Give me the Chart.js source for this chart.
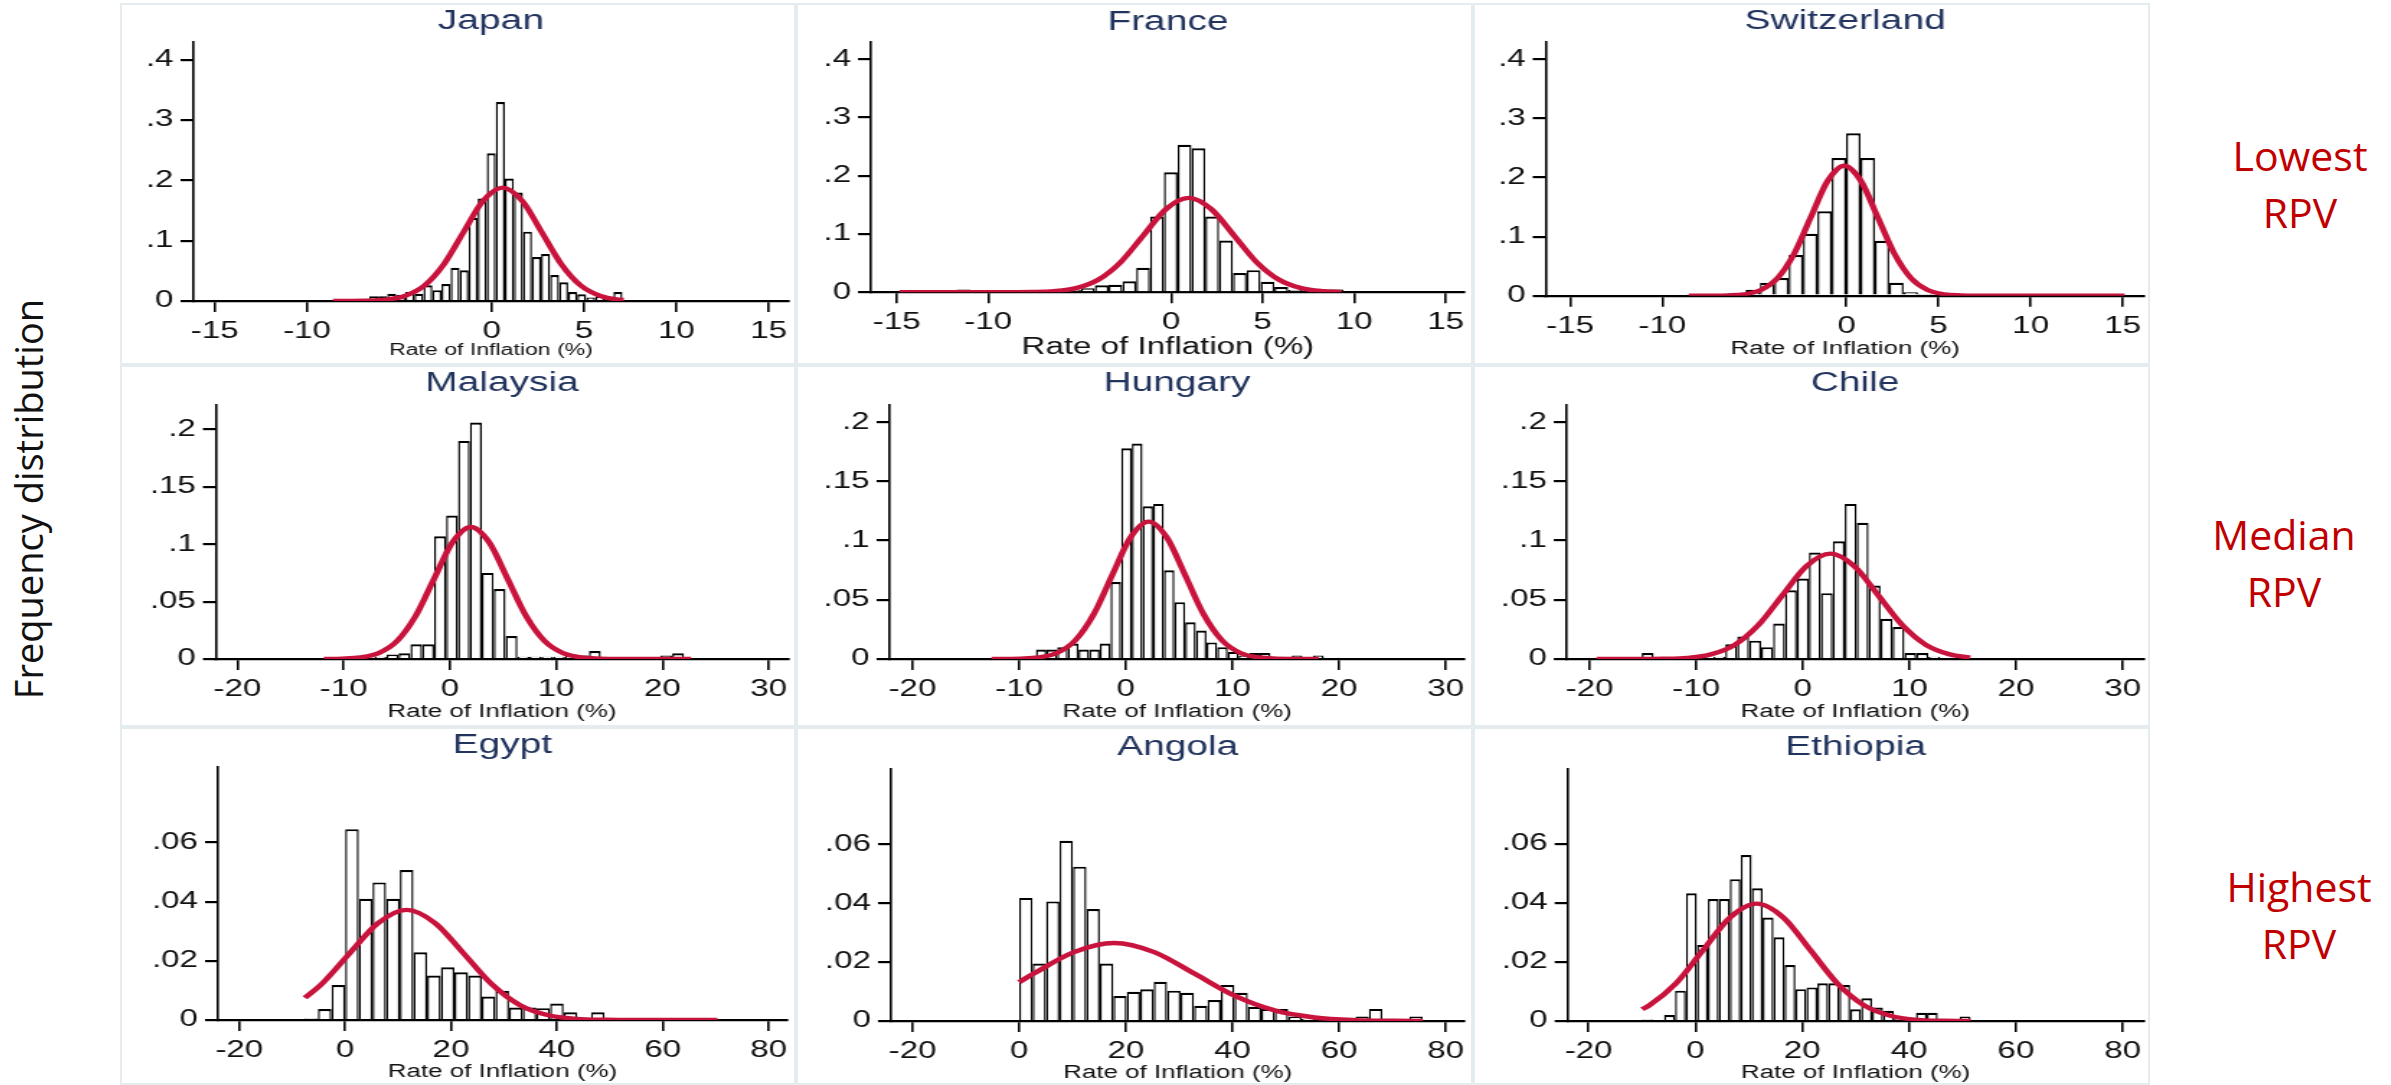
<!DOCTYPE html>
<html>
<head>
<meta charset="utf-8">
<title>Inflation histograms by RPV group</title>
<script src="https://cdn.jsdelivr.net/npm/chart.js@4.4.0/dist/chart.umd.min.js"></script>
<style>
  body { margin: 0; background: #fff; width: 2391px; height: 1085px; position: relative; overflow: hidden; }
  .panel { position: absolute; box-sizing: border-box; border: 2px solid #e4ecf0; }
  .side { position: absolute; width: 220px; text-align: center; font-family: 'Open Sans', sans-serif;
          font-size: 41px; line-height: 57px; color: #c00000; }
  #ylab { position: absolute; left: -222px; top: 474px; width: 500px; height: 50px; line-height: 50px;
          text-align: center; font-family: 'Open Sans', sans-serif; font-size: 38px; color: #111;
          transform: rotate(-90deg); }
</style>
</head>
<body>
<div id="ylab">Frequency distribution</div>
<script>
const countries = ['Japan', 'France', 'Switzerland', 'Malaysia', 'Hungary', 'Chile', 'Egypt', 'Angola', 'Ethiopia'];

// histogram bins: left edge of the first bin and bin width
const binStart = [-8.6, -14.75, -5.48, -11.56, -12.43, -19.59, -7.74, 0, -9.98];
const binWidth = [0.49, 0.755, 0.78, 1.12, 1.0, 1.12, 2.58, 2.523, 2.05];

const freqJapan = [0, 0.002, 0, 0.002, 0.008, 0.008, 0.012, 0.01, 0.015, 0.012, 0.026, 0.018, 0.028, 0.055, 0.051,
  0.138, 0.17, 0.245, 0.33, 0.203, 0.18, 0.115, 0.073, 0.078, 0.043, 0.031, 0.015, 0.011, 0.006, 0.008, 0.003, 0.015];
const freqFrance = [0, 0, 0, 0, 0.005, 0, 0, 0, 0, 0, 0, 0.002, 0.004, 0.007, 0.012, 0.013, 0.019, 0.042,
  0.13, 0.206, 0.253, 0.247, 0.13, 0.089, 0.033, 0.038, 0.018, 0.009, 0.004, 0.002, 0, 0.005];
const freqSwitzerland = [0.01, 0.022, 0.03, 0.069, 0.105, 0.143, 0.233, 0.275, 0.233, 0.093, 0.022, 0.006, 0.003];
const freqMalaysia = [0.0015, 0, 0, 0, 0.002, 0.004, 0.005, 0.0128, 0.0128, 0.107, 0.125, 0.19, 0.206, 0.075, 0.061,
  0.02, 0.002, 0.002, 0.002, 0.002, 0.004, 0.003, 0.007, 0, 0, 0, 0, 0, 0.003, 0.005, 0];
const freqHungary = [0, 0, 0, 0, 0.008, 0.008, 0.01, 0.013, 0.008, 0.008, 0.013, 0.065, 0.178, 0.182, 0.129, 0.131,
  0.075, 0.048, 0.031, 0.024, 0.014, 0.01, 0.006, 0.003, 0.005, 0.005, 0, 0.002, 0.003, 0, 0.003];
const freqChile = [0, 0, 0, 0, 0.005, 0, 0, 0, 0, 0, 0.002, 0.0124, 0.019, 0.0155, 0.01, 0.03, 0.058, 0.068, 0.09,
  0.0556, 0.0994, 0.131, 0.115, 0.062, 0.034, 0.027, 0.005, 0.005, 0.002, 0.001, 0, 0];
const freqEgypt = [0.0005, 0.0037, 0.0118, 0.0645, 0.041, 0.0465, 0.041, 0.0507, 0.0229, 0.015, 0.0178, 0.0161,
  0.015, 0.0079, 0.0099, 0.0042, 0.0042, 0.004, 0.0056, 0.0026, 0.0008, 0.0026, 0, 0, 0, 0, 0, 0, 0, 0, 0];
const freqAngola = [0.0418, 0.0195, 0.0406, 0.0612, 0.0524, 0.038, 0.0195, 0.0085, 0.0099, 0.0108, 0.0133, 0.0103,
  0.0096, 0.0052, 0.0071, 0.0122, 0.0096, 0.0048, 0.0041, 0.0041, 0.0015, 0.0008, 0.0008, 0.0008, 0.0008, 0.0015,
  0.0041, 0, 0, 0.0015];
const freqEthiopia = [0.0005, 0, 0.002, 0.0103, 0.0433, 0.0258, 0.0414, 0.0414, 0.0481, 0.0563, 0.045, 0.0351,
  0.0284, 0.019, 0.0108, 0.0114, 0.0128, 0.0128, 0.0122, 0.004, 0.0077, 0.0046, 0.0035, 0.001, 0.001, 0.0028,
  0.0028, 0.0005, 0.0005, 0.0015];

// normal density overlay
const curveXJapan = [-8.6, -7.89, -6.83, -5.77, -4.71, -3.65, -2.59, -1.53, -0.47, 0.59, 1.65, 2.71, 3.77, 4.83, 5.89, 6.95, 7.15];
const curveYJapan = [0, 0.0001, 0.0004, 0.0021, 0.0083, 0.0254, 0.061, 0.114, 0.1659, 0.188, 0.1659, 0.114, 0.061, 0.0254, 0.0083, 0.0021, 0.0016];
const curveXFrance = [-14.85, -8.89, -7.66, -6.43, -5.2, -3.97, -2.74, -1.51, -0.28, 0.95, 2.18, 3.41, 4.64, 5.87, 7.1, 8.33, 9.3];
const curveYFrance = [0, 0.0001, 0.0004, 0.0018, 0.0071, 0.0219, 0.0526, 0.0983, 0.143, 0.162, 0.143, 0.0983, 0.0526, 0.0219, 0.0071, 0.0018, 0.0005];
const curveXSwitzerland = [-8.57, -7.36, -6.46, -5.55, -4.645, -3.74, -2.835, -1.93, -1.025, -0.12, 0.785, 1.69, 2.595, 3.5, 4.405, 5.31, 6.215, 7.12, 15.1];
const curveYSwitzerland = [0, 0.0001, 0.0005, 0.0024, 0.0097, 0.0298, 0.0714, 0.1334, 0.1942, 0.22, 0.1942, 0.1334, 0.0714, 0.0298, 0.0097, 0.0024, 0.0005, 0.0001, 0];
const curveXMalaysia = [-11.86, -10.17, -8.44, -6.705, -4.97, -3.235, -1.5, 0.235, 1.97, 3.705, 5.44, 7.175, 8.91, 10.645, 12.38, 14.115, 15.85, 22.7];
const curveYMalaysia = [0, 0.0003, 0.0013, 0.0051, 0.0156, 0.0373, 0.0697, 0.1015, 0.115, 0.1015, 0.0697, 0.0373, 0.0156, 0.0051, 0.0013, 0.0003, 0, 0];
const curveXHungary = [-12.58, -11.61, -9.89, -8.17, -6.45, -4.73, -3.01, -1.29, 0.43, 2.15, 3.87, 5.59, 7.31, 9.03, 10.75, 12.47, 14.19, 15.91, 18.1];
const curveYHungary = [0, 0, 0.0003, 0.0013, 0.0051, 0.0157, 0.0377, 0.0704, 0.1024, 0.116, 0.1024, 0.0704, 0.0377, 0.0157, 0.0051, 0.0013, 0.0003, 0, 0];
const curveXChile = [-19.34, -15.34, -13.1, -10.86, -8.62, -6.38, -4.14, -1.9, 0.34, 2.58, 4.82, 7.06, 9.3, 11.54, 13.78, 15.7];
const curveYChile = [0, 0, 0.0002, 0.001, 0.0039, 0.012, 0.0289, 0.054, 0.0785, 0.089, 0.0785, 0.054, 0.0289, 0.012, 0.0039, 0.0012];
const curveXEgypt = [-7.6, -4.48, 0.88, 6.24, 11.6, 16.96, 22.32, 27.68, 33.04, 38.4, 43.76, 49.12, 54.48, 70.3];
const curveYEgypt = [0.0075, 0.0121, 0.0226, 0.0328, 0.0372, 0.0328, 0.0226, 0.0121, 0.005, 0.0016, 0.0004, 0.0001, 0, 0];
const curveXAngola = [0, 2.75, 10.28, 17.8, 25.33, 32.85, 40.38, 47.9, 55.43, 62.95, 70.48, 75.7];
const curveYAngola = [0.0132, 0.0161, 0.0234, 0.0265, 0.0234, 0.0161, 0.0086, 0.0036, 0.0012, 0.0003, 0.0001, 0];
const curveXEthiopia = [-9.98, -8.58, -3.57, 1.45, 6.45, 11.46, 16.47, 21.48, 26.49, 31.5, 36.51, 41.52, 46.53, 51.5];
const curveYEthiopia = [0.004, 0.0054, 0.0129, 0.0241, 0.0351, 0.0398, 0.0351, 0.0241, 0.0129, 0.0054, 0.0018, 0.0004, 0.0001, 0];

// axis ranges and tick labels
const xMin = [-16.15, -16.41, -16.33, -22.02, -22.14, -22.13, -24.02, -24.03, -23.92];
const xMax = [16.07, 16.04, 16.19, 31.82, 31.78, 31.96, 83.46, 83.56, 83.9];
const yMax = [0.43, 0.43, 0.43, 0.2213, 0.2145, 0.2145, 0.0856, 0.0858, 0.0857];
const xTicksLow = [-15, -10, 0, 5, 10, 15];
const xTicksMid = [-20, -10, 0, 10, 20, 30];
const xTicksHigh = [-20, 0, 20, 40, 60, 80];
const yTicksLow = [0, 0.1, 0.2, 0.3, 0.4];
const yTicksMid = [0, 0.05, 0.1, 0.15, 0.2];
const yTicksHigh = [0, 0.02, 0.04, 0.06];
const xAxisTitle = 'Rate of Inflation (%)';
const rowLabels = [['Lowest', 'RPV'], ['Median', 'RPV'], ['Highest', 'RPV']];

const freqs = [freqJapan, freqFrance, freqSwitzerland, freqMalaysia, freqHungary, freqChile, freqEgypt, freqAngola, freqEthiopia];
const curveXs = [curveXJapan, curveXFrance, curveXSwitzerland, curveXMalaysia, curveXHungary, curveXChile, curveXEgypt, curveXAngola, curveXEthiopia];
const curveYs = [curveYJapan, curveYFrance, curveYSwitzerland, curveYMalaysia, curveYHungary, curveYChile, curveYEgypt, curveYAngola, curveYEthiopia];
const xTicksByRow = [xTicksLow, xTicksMid, xTicksHigh];
const yTicksByRow = [yTicksLow, yTicksMid, yTicksHigh];

// page layout (css px). the stata graphs were stretched sideways in the slide,
// so each canvas is drawn narrower and widened with css
const STRETCH = 1.44;
const colX = [120, 796, 1473], colW = [676, 677, 677];
const rowY = [3, 365, 727], rowH = [362, 362, 358];
const plotLeft = [73.5, 75, 72.7, 95.9, 93.6, 93.8, 98, 95, 94.7];
const plotRight = [675, 675, 674.8, 675, 675, 674.8, 675, 675, 674.8];
const plotTop = [38.7, 38.7, 38.7, 40, 40, 40, 39.7, 41.3, 41.3];
const plotBottom = [298, 289.3, 292.7, 294, 294, 294, 293, 294, 294];
const titleMid = [19, 19.8, 19, 19, 19, 19, 19, 20.3, 20.3];
const xTitleSize = [16, 23, 18, 18, 18, 18, 18, 18, 18];
const xTitleFromBottom = [14.3, 17.5, 16, 14.6, 14.5, 15.3, 13.3, 12, 12];

const sideX = [2300, 2284, 2299];
const sideTop = [127, 506, 858];

const FONT = "'Liberation Sans', Arial, sans-serif";
const RED = '#c8143c';

function fmtY(v) {
    return String(v).replace(/^0\./, '.');
}

countries.forEach(function(name, i) {
    const col = i % 3;
    const row = Math.floor(i / 3);
    const cssW = colW[col];
    const cssH = rowH[row];
    const cw = Math.round(cssW / STRETCH);
    const sx = cssW / cw;

    const frame = document.createElement('div');
    frame.className = 'panel';
    frame.style.cssText = `left:${colX[col]}px;top:${rowY[row]}px;width:${cssW}px;height:${cssH}px`;
    document.body.appendChild(frame);

    const canvas = document.createElement('canvas');
    canvas.width = cw;
    canvas.height = cssH;
    canvas.style.cssText = `position:absolute;left:${colX[col]}px;top:${rowY[row]}px;width:${cssW}px;height:${cssH}px`;
    document.body.appendChild(canvas);

    const bars = freqs[i].map((f, k) => ({ x: binStart[i] + (k + 0.5) * binWidth[i], y: f }));
    const curve = curveXs[i].map((x, k) => ({ x: x, y: curveYs[i][k] }));
    const xTicks = xTicksByRow[row];
    const yTicks = yTicksByRow[row];
    const tSize = xTitleSize[i];

    new Chart(canvas.getContext('2d'), {
        type: 'bar',
        data: {
            datasets: [{
                type: 'line',
                data: curve,
                borderColor: RED,
                borderWidth: 4.4,
                pointRadius: 0,
                cubicInterpolationMode: 'monotone',
                fill: false,
                order: 0
            }, {
                type: 'bar',
                data: bars,
                backgroundColor: '#ffffff',
                borderColor: '#000000',
                borderWidth: { top: 2.2, left: 1.45, right: 1.45, bottom: 0 },
                borderSkipped: 'start',
                barPercentage: 1,
                categoryPercentage: 1,
                inflateAmount: 0,
                order: 1
            }]
        },
        options: {
            responsive: false,
            animation: false,
            events: [],
            layout: { padding: { left: 0, top: 0, bottom: 0, right: (cssW - plotRight[i]) / sx } },
            plugins: {
                legend: { display: false },
                tooltip: { enabled: false },
                title: {
                    display: true,
                    text: name,
                    fullSize: false,
                    color: '#22345e',
                    font: { family: FONT, size: 27, lineHeight: 1, weight: 'normal' },
                    padding: { top: titleMid[i] - 13.5, bottom: plotTop[i] - titleMid[i] - 13.5 }
                }
            },
            scales: {
                x: {
                    type: 'linear',
                    min: xMin[i],
                    max: xMax[i],
                    offset: false,
                    afterBuildTicks: function(scale) {
                        scale.ticks = xTicks.map(v => ({ value: v }));
                    },
                    afterFit: function(scale) {
                        scale.height = cssH - plotBottom[i];
                    },
                    ticks: {
                        autoSkip: false,
                        maxRotation: 0,
                        padding: 6,
                        color: '#111',
                        font: { family: FONT, size: 23 },
                        callback: v => String(v)
                    },
                    grid: { display: true, offset: false, drawOnChartArea: false, drawTicks: true, tickLength: 11, color: '#000', lineWidth: 1.6 },
                    border: { display: true, color: '#000', width: 2.2 },
                    title: {
                        display: true,
                        text: xAxisTitle,
                        color: '#111',
                        font: { family: FONT, size: tSize, lineHeight: 1.2 },
                        padding: { top: 0, bottom: xTitleFromBottom[i] - tSize * 0.6 }
                    }
                },
                y: {
                    type: 'linear',
                    min: 0,
                    max: yMax[i],
                    afterBuildTicks: function(scale) {
                        scale.ticks = yTicks.map(v => ({ value: v }));
                    },
                    afterFit: function(scale) {
                        scale.width = plotLeft[i] / sx;
                    },
                    ticks: {
                        padding: 7 / sx,
                        color: '#111',
                        font: { family: FONT, size: 23 },
                        callback: v => fmtY(v)
                    },
                    grid: { display: true, drawOnChartArea: false, drawTicks: true, tickLength: 13 / sx, color: '#000', lineWidth: 2.2 },
                    border: { display: true, color: '#000', width: 1.6 }
                }
            }
        }
    });
});

rowLabels.forEach(function(lines, r) {
    const div = document.createElement('div');
    div.className = 'side';
    div.style.left = (sideX[r] - 110) + 'px';
    div.style.top = sideTop[r] + 'px';
    div.innerHTML = lines.join('<br>');
    document.body.appendChild(div);
});
</script>
</body>
</html>
